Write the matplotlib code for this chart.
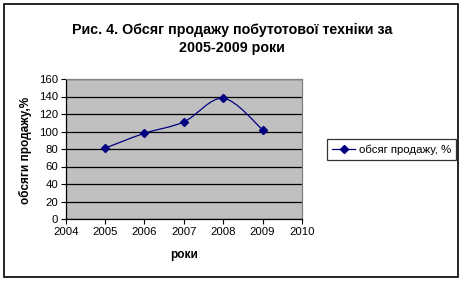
import numpy as np
import matplotlib
matplotlib.use("Agg")
import matplotlib.pyplot as plt
from matplotlib.path import Path
from matplotlib.patches import PathPatch, Rectangle
from matplotlib.lines import Line2D

plt.rcParams['font.family'] = ['Liberation Sans', 'DejaVu Sans']

# data
years = [2005, 2006, 2007, 2008, 2009]
sales = [81, 98, 111, 138, 102]
x_ticks = [2004, 2005, 2006, 2007, 2008, 2009, 2010]
y_ticks = [0, 20, 40, 60, 80, 100, 120, 140, 160]

title = "Рис. 4. Обсяг продажу побутотової техніки за\n2005-2009 роки"
ylabel = "обсяги продажу,%"
xlabel = "роки"
series_name = "обсяг продажу, %"

navy = "#000080"

fig = plt.figure(figsize=(4.65, 2.83), dpi=100)
ax = fig.add_axes([65.7 / 465, 1 - 219 / 283, (302 - 65.7) / 465, (219 - 79) / 283])
ax.set_facecolor("#C0C0C0")

# excel-like smoothed line: cubic bezier through the points (catmull-rom tangents)
x = np.array(years, dtype=float)
y = np.array(sales, dtype=float)
verts = [(x[0], y[0])]
codes = [Path.MOVETO]
n = len(x)
for i in range(n - 1):
    p0 = (x[max(i - 1, 0)], y[max(i - 1, 0)])
    p1 = (x[i], y[i])
    p2 = (x[i + 1], y[i + 1])
    p3 = (x[min(i + 2, n - 1)], y[min(i + 2, n - 1)])
    c1 = (p1[0] + (p2[0] - p0[0]) / 6, p1[1] + (p2[1] - p0[1]) / 6)
    c2 = (p2[0] - (p3[0] - p1[0]) / 6, p2[1] - (p3[1] - p1[1]) / 6)
    verts += [c1, c2, p2]
    codes += [Path.CURVE4] * 3
ax.add_patch(PathPatch(Path(verts, codes), fill=False, edgecolor=navy, lw=0.9, zorder=3))
ax.plot(years, sales, linestyle="none", marker="D", ms=4.5, color=navy, zorder=4)

ax.set_xlim(2004, 2010)
ax.set_ylim(0, 160)
ax.set_xticks(x_ticks)
ax.set_yticks(y_ticks)
ax.yaxis.grid(True, color="black", lw=0.9)
ax.set_axisbelow(True)
ax.tick_params(labelsize=8.2, length=3.5, width=0.8, colors="black", pad=2)

for s in ["top", "right"]:
    ax.spines[s].set_color("#808080")
    ax.spines[s].set_linewidth(0.9)
for s in ["left", "bottom"]:
    ax.spines[s].set_color("black")
    ax.spines[s].set_linewidth(0.9)

fig.text(232 / 465, 1 - 39 / 283, title, ha="center", va="center",
         fontsize=10.3, fontweight="bold", linespacing=1.35)
fig.text(184 / 465, 1 - 255 / 283, xlabel, ha="center", va="center",
         fontsize=8.5, fontweight="bold")
fig.text(25 / 465, 1 - 150 / 283, ylabel, ha="center", va="center",
         rotation=90, fontsize=8.5, fontweight="bold")

handle = Line2D([], [], color=navy, lw=0.9, marker="D", ms=4.5)
leg = fig.legend([handle], [series_name], loc="center left",
                 bbox_to_anchor=(327 / 465, 1 - 149.5 / 283),
                 fontsize=8.2, frameon=True, fancybox=False,
                 handlelength=2.0, handletextpad=0.35, borderpad=0.45,
                 borderaxespad=0)
leg.get_frame().set_edgecolor("black")
leg.get_frame().set_linewidth(0.9)

# outer frame of the chart
fig.patches.append(Rectangle((4 / 465, 1 - 277 / 283), 454 / 465, 273 / 283,
                             transform=fig.transFigure, fill=False,
                             edgecolor="black", lw=1.2))

fig.savefig("out.png", dpi=100)
